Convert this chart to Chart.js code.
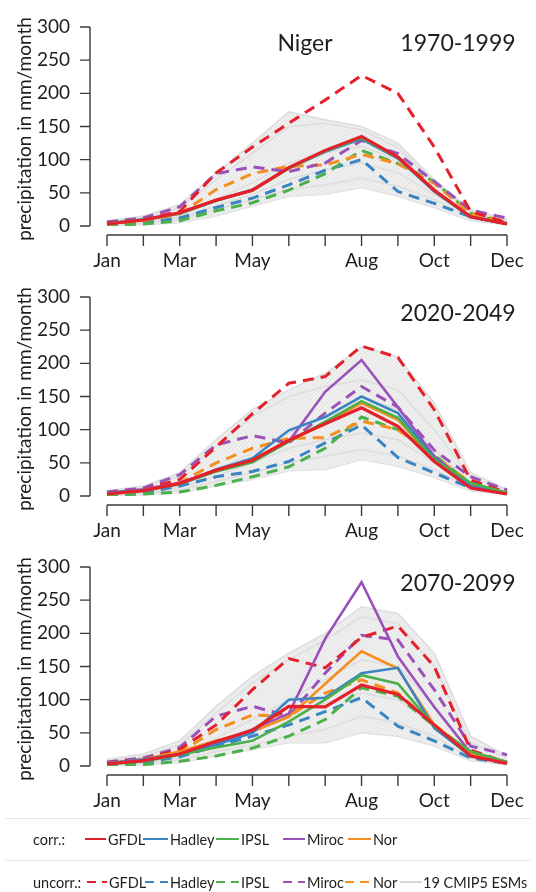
<!DOCTYPE html>
<html>
<head>
<meta charset="utf-8">
<script src="https://cdn.jsdelivr.net/npm/chart.js@4.4.1/dist/chart.umd.min.js"></script>
<style>
  html, body { margin: 0; padding: 0; background: #fff; }
  body { width: 536px; height: 892px; position: relative; overflow: hidden; font-family: Lato, "Noto Sans", sans-serif; }
  .panel { position: absolute; left: 0; width: 536px; height: 270px; }
  #legend { position: absolute; left: 0; top: 800px; }
</style>
</head>
<body>
<div class="panel" style="top:0"><canvas id="p1970" width="536" height="270"></canvas></div>
<div class="panel" style="top:270px"><canvas id="p2020" width="536" height="270"></canvas></div>
<div class="panel" style="top:540px"><canvas id="p2070" width="536" height="270"></canvas></div>

<svg id="legend" width="536" height="92" xmlns="http://www.w3.org/2000/svg"></svg>

<script>
// Monthly precipitation (mm/month), Niger basin
const months = ['Jan','Feb','Mar','Apr','May','Jun','Jul','Aug','Sep','Oct','Nov','Dec'];
const labelledMonths = ['Jan','Mar','May','Aug','Oct','Dec'];
const yMin = 0, yMax = 300, yStep = 50;

// 1970-1999
const corrGFDL1970   = [3,9,20,39,54,88,114,135,104,54,14,3];
const corrHadley1970 = [4,10,19,38,55,87,112,131,102,52,13,3];
const corrIPSL1970   = [3,9,19,38,54,87,113,133,103,53,14,3];
const corrMiroc1970  = [3,9,20,39,54,88,113,134,104,54,14,3];
const corrNor1970    = [3,9,19,39,54,87,113,133,103,53,14,3];
const uncGFDL1970    = [5,10,22,80,119,155,190,227,200,119,22,5];
const uncHadley1970  = [2,5,12,28,42,62,84,100,52,34,14,4];
const uncIPSL1970    = [1,3,8,23,35,54,79,114,94,67,19,4];
const uncMiroc1970   = [6,12,29,79,89,82,95,129,109,67,24,12];
const uncNor1970     = [4,8,18,55,79,90,92,108,94,64,19,7];
const esmMax1970     = [8,15,32,80,125,172,160,150,125,70,25,10];
const esmMin1970     = [0,2,5,15,30,45,48,58,45,28,8,2];
const esmA1970       = [6,12,28,70,110,150,155,145,118,65,22,8];
const esmB1970       = [3,7,15,40,65,95,110,120,100,58,16,5];
const esmC1970       = [1,4,9,25,40,55,62,72,60,40,12,3];
const esmD1970       = [2,5,12,30,48,70,85,95,80,48,14,4];

// 2020-2049
const corrGFDL2020   = [3,8,19,39,54,84,109,133,105,52,12,3];
const corrHadley2020 = [4,9,18,40,57,99,119,150,125,57,15,4];
const corrIPSL2020   = [3,8,18,37,51,82,112,143,118,55,20,5];
const corrMiroc2020  = [5,10,20,38,55,82,157,205,134,60,15,4];
const corrNor2020    = [3,8,19,38,52,83,110,140,115,55,18,4];
const uncGFDL2020    = [5,10,25,74,124,170,180,226,209,130,24,5];
const uncHadley2020  = [2,5,15,29,37,52,80,107,58,35,12,4];
const uncIPSL2020    = [1,3,6,16,29,44,72,119,100,62,18,4];
const uncMiroc2020   = [6,12,32,77,91,80,125,165,134,69,29,9];
const uncNor2020     = [4,8,20,50,72,87,88,113,100,60,20,6];
const esmMax2020     = [8,15,35,85,130,160,185,225,210,140,35,10];
const esmMin2020     = [0,2,5,15,25,38,40,55,45,28,8,2];
const esmA2020       = [6,12,30,75,120,150,165,175,160,100,28,8];
const esmB2020       = [3,7,15,40,65,95,120,150,130,70,18,5];
const esmC2020       = [1,4,9,22,35,50,60,70,60,40,12,3];
const esmD2020       = [2,5,12,30,50,72,85,95,85,50,14,4];

// 2070-2099
const corrGFDL2070   = [3,8,18,37,54,90,89,122,108,62,15,4];
const corrHadley2070 = [4,10,18,32,50,100,103,140,148,57,15,5];
const corrIPSL2070   = [3,7,17,28,38,67,100,137,124,60,22,6];
const corrMiroc2070  = [4,9,18,35,55,79,192,277,165,89,20,6];
const corrNor2070    = [4,10,22,38,52,74,124,173,147,62,18,5];
const uncGFDL2070    = [5,10,25,62,115,162,148,194,211,150,24,5];
const uncHadley2070  = [2,5,14,30,45,62,82,103,60,38,12,4];
const uncIPSL2070    = [1,2,7,15,27,45,70,118,105,60,20,5];
const uncMiroc2070   = [6,12,28,75,90,75,140,197,190,115,30,17];
const uncNor2070     = [4,8,20,55,77,75,110,130,110,62,20,6];
const esmMax2070     = [10,18,38,90,135,170,200,240,230,170,45,15];
const esmMin2070     = [0,2,5,15,25,35,35,50,45,30,8,2];
const esmA2070       = [7,14,32,80,125,160,190,225,215,150,35,12];
const esmB2070       = [3,7,15,42,70,100,130,160,150,90,22,6];
const esmC2070       = [1,4,9,22,32,45,55,75,65,45,12,3];
const esmD2070       = [2,5,12,30,50,75,95,110,100,60,15,4];

const colors = { GFDL:'#e5202a', Hadley:'#3a84c4', IPSL:'#4cb04b', Miroc:'#9a52b8', Nor:'#f68e1f', ESM:'#dedede' };
const FONT = 'Lato, "Noto Sans", sans-serif';
const TEXT = '#1e1e1e';

// very light grey hatched fill for the ensemble spread
function hatchPattern() {
  const c = document.createElement('canvas');
  c.width = 4; c.height = 4;
  const g = c.getContext('2d');
  g.fillStyle = 'rgba(236,236,236,0.85)';
  g.fillRect(0, 0, 4, 4);
  g.strokeStyle = 'rgba(218,218,218,0.8)';
  g.lineWidth = 0.7;
  g.beginPath(); g.moveTo(0, 4); g.lineTo(4, 0); g.stroke();
  return g.createPattern(c, 'repeat');
}

function solid(name, data, width) {
  return { label: name + ' corr.', data, borderColor: colors[name], borderWidth: width || 2.6,
           pointRadius: 0, tension: 0, fill: false };
}
function dashed(name, data) {
  return { label: name + ' uncorr.', data, borderColor: colors[name], borderWidth: 3,
           borderDash: [11, 7], pointRadius: 0, tension: 0, fill: false };
}
function member(data) {
  return { label: 'ESM', data, borderColor: colors.ESM, borderWidth: 1.6, pointRadius: 0, tension: 0, fill: false };
}

// axes drawn R-style: detached y axis and x axis with a tick on every month
const framePlugin = {
  id: 'frame',
  afterDraw(chart, args, opts) {
    const { ctx, chartArea, scales: { x, y } } = chart;
    ctx.save();
    ctx.strokeStyle = '#3a3a3a';
    ctx.lineWidth = 1.4;
    const ax = chartArea.left - 17;
    ctx.beginPath();
    ctx.moveTo(ax, y.getPixelForValue(yMin));
    ctx.lineTo(ax, y.getPixelForValue(yMax));
    y.ticks.forEach(t => {
      const py = y.getPixelForValue(t.value);
      ctx.moveTo(ax - 10, py); ctx.lineTo(ax, py);
    });
    const ay = chartArea.bottom + 9;
    ctx.moveTo(x.getPixelForValue(0), ay);
    ctx.lineTo(x.getPixelForValue(months.length - 1), ay);
    months.forEach((m, i) => {
      const px = x.getPixelForValue(i);
      ctx.moveTo(px, ay); ctx.lineTo(px, ay + 11);
    });
    ctx.stroke();

    ctx.fillStyle = TEXT;
    ctx.textAlign = 'center';
    ctx.textBaseline = 'middle';
    ctx.font = '19px ' + FONT;
    ctx.save();
    ctx.translate(25, 129);
    ctx.rotate(-Math.PI / 2);
    ctx.fillText('precipitation in mm/month', 0, 0);
    ctx.restore();

    ctx.font = '23px ' + FONT;
    if (opts.region) ctx.fillText(opts.region, 305, 44);
    ctx.fillText(opts.period, 458, 44);
    ctx.restore();
  }
};

function makePanel(id, period, region, corr, unc, esm) {
  const datasets = [
    solid('GFDL', corr.GFDL, 3.2),
    solid('IPSL', corr.IPSL),
    solid('Hadley', corr.Hadley),
    solid('Nor', corr.Nor),
    solid('Miroc', corr.Miroc),
    dashed('GFDL', unc.GFDL),
    dashed('Miroc', unc.Miroc),
    dashed('Nor', unc.Nor),
    dashed('IPSL', unc.IPSL),
    dashed('Hadley', unc.Hadley),
    member(esm.A), member(esm.B), member(esm.C), member(esm.D),
    { label: 'ESM max', data: esm.max, borderColor: colors.ESM, borderWidth: 1.6, pointRadius: 0,
      tension: 0, fill: '+1', backgroundColor: hatchPattern() },
    { label: 'ESM min', data: esm.min, borderColor: colors.ESM, borderWidth: 1.6, pointRadius: 0,
      tension: 0, fill: false }
  ];
  new Chart(document.getElementById(id), {
    type: 'line',
    data: { labels: months, datasets },
    options: {
      responsive: false,
      animation: false,
      events: [],
      layout: { padding: { top: 27, right: 29, left: 0, bottom: 0 } },
      plugins: { legend: { display: false }, tooltip: { enabled: false },
                 filler: { propagate: false }, frame: { period, region } },
      scales: {
        x: {
          offset: false,
          // tick marks are drawn by the frame plugin; tickLength only spaces the labels
          grid: { display: false, drawTicks: true, tickLength: 23 },
          border: { display: false },
          afterFit: s => { s.height = 44; },
          ticks: {
            autoSkip: false, maxRotation: 0, padding: 0,
            color: TEXT, font: { family: FONT, size: 19 },
            callback: (v, i) => labelledMonths.includes(months[i]) ? months[i] : ''
          }
        },
        y: {
          min: yMin, max: yMax,
          grid: { display: false, drawTicks: true, tickLength: 37 },
          border: { display: false },
          afterFit: s => { s.width = 107; },
          ticks: { stepSize: yStep, padding: 0, color: TEXT, font: { family: FONT, size: 19 } }
        }
      }
    },
    plugins: [framePlugin]
  });
}

makePanel('p1970', '1970-1999', 'Niger',
  { GFDL: corrGFDL1970, Hadley: corrHadley1970, IPSL: corrIPSL1970, Miroc: corrMiroc1970, Nor: corrNor1970 },
  { GFDL: uncGFDL1970, Hadley: uncHadley1970, IPSL: uncIPSL1970, Miroc: uncMiroc1970, Nor: uncNor1970 },
  { max: esmMax1970, min: esmMin1970, A: esmA1970, B: esmB1970, C: esmC1970, D: esmD1970 });
makePanel('p2020', '2020-2049', null,
  { GFDL: corrGFDL2020, Hadley: corrHadley2020, IPSL: corrIPSL2020, Miroc: corrMiroc2020, Nor: corrNor2020 },
  { GFDL: uncGFDL2020, Hadley: uncHadley2020, IPSL: uncIPSL2020, Miroc: uncMiroc2020, Nor: uncNor2020 },
  { max: esmMax2020, min: esmMin2020, A: esmA2020, B: esmB2020, C: esmC2020, D: esmD2020 });
makePanel('p2070', '2070-2099', null,
  { GFDL: corrGFDL2070, Hadley: corrHadley2070, IPSL: corrIPSL2070, Miroc: corrMiroc2070, Nor: corrNor2070 },
  { GFDL: uncGFDL2070, Hadley: uncHadley2070, IPSL: uncIPSL2070, Miroc: uncMiroc2070, Nor: uncNor2070 },
  { max: esmMax2070, min: esmMin2070, A: esmA2070, B: esmB2070, C: esmC2070, D: esmD2070 });

// legend rows
const NS = 'http://www.w3.org/2000/svg';
const svg = document.getElementById('legend');
function el(tag, attrs, text) {
  const e = document.createElementNS(NS, tag);
  for (const k in attrs) e.setAttribute(k, attrs[k]);
  if (text) e.textContent = text;
  svg.appendChild(e);
  return e;
}
el('line', { x1: 5, x2: 531, y1: 18.5, y2: 18.5, stroke: '#e8e8e8', 'stroke-width': 1 });
el('line', { x1: 5, x2: 531, y1: 60.5, y2: 60.5, stroke: '#e8e8e8', 'stroke-width': 1 });
const legendFont = { 'font-family': 'Lato, Noto Sans, sans-serif', 'font-size': 14.5, fill: TEXT, 'dominant-baseline': 'central' };
const row1 = [['GFDL',85,106,108],['Hadley',143,168,170],['IPSL',216,239,241],['Miroc',283,305,307],['Nor',348,371,373]];
const row2 = [['GFDL',87,107,109],['Hadley',145,168,170],['IPSL',216,239,241],['Miroc',283,305,307],['Nor',345,371,373]];
el('text', Object.assign({ x: 33, y: 39 }, legendFont), 'corr.:');
row1.forEach(([n, a, b, t]) => {
  el('line', { x1: a, x2: b, y1: 39, y2: 39, stroke: colors[n], 'stroke-width': 2 });
  el('text', Object.assign({ x: t, y: 39 }, legendFont), n);
});
el('text', Object.assign({ x: 33, y: 82 }, legendFont), 'uncorr.:');
row2.forEach(([n, a, b, t]) => {
  el('line', { x1: a, x2: b, y1: 82, y2: 82, stroke: colors[n], 'stroke-width': 2, 'stroke-dasharray': '9 6' });
  el('text', Object.assign({ x: t, y: 82 }, legendFont), n);
});
el('line', { x1: 400, x2: 422, y1: 82, y2: 82, stroke: '#d8d8d8', 'stroke-width': 2 });
el('text', Object.assign({ x: 423, y: 82 }, legendFont), '19 CMIP5 ESMs');
</script>
</body>
</html>
